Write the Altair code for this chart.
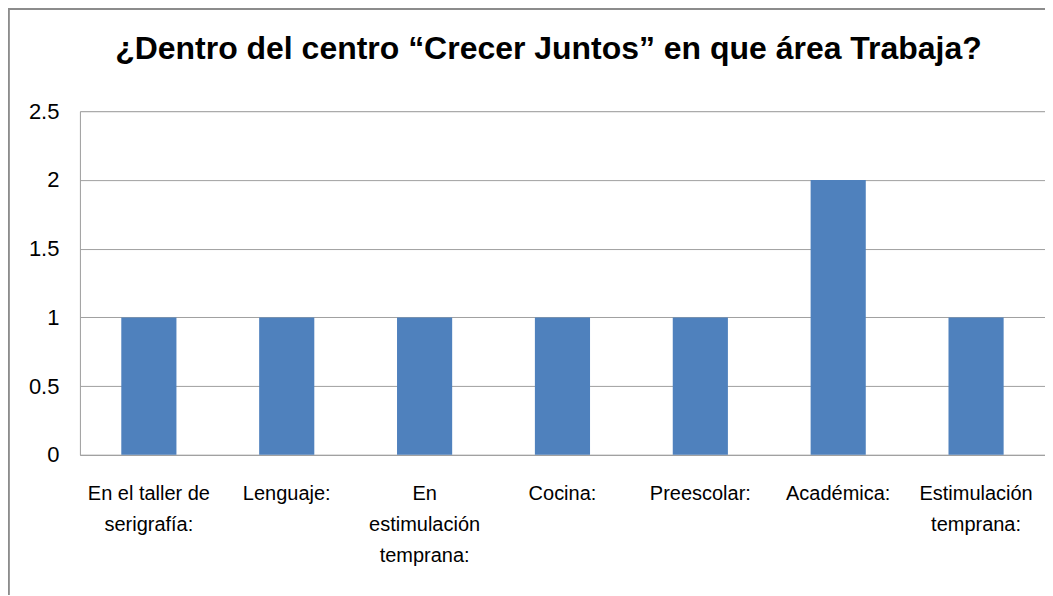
import altair as alt
import pandas as pd

categories = [
    "En el taller de|serigrafía:",
    "Lenguaje:",
    "En|estimulación|temprana:",
    "Cocina:",
    "Preescolar:",
    "Académica:",
    "Estimulación|temprana:",
]
values = [1, 1, 1, 1, 1, 2, 1]
title_text = "¿Dentro del centro “Crecer Juntos” en que área Trabaja?"

df = pd.DataFrame({"cat": categories, "val": values})

W, H = 966, 344

bars = alt.Chart(df).mark_bar(color="#4F81BD").encode(
    x=alt.X(
        "cat:N",
        sort=categories,
        title=None,
        scale=alt.Scale(paddingInner=0.6, paddingOuter=0.3),
        axis=alt.Axis(
            labelExpr="split(datum.label, '|')",
            labelAngle=0,
            labelFont="Liberation Sans",
            labelFontSize=20,
            labelColor="#000000",
            labelLineHeight=31,
            labelPadding=29,
            labelBaseline="top",
            ticks=False,
            domainColor="#A0A0A0",
            labelLimit=200,
        ),
    ),
    y=alt.Y(
        "val:Q",
        title=None,
        scale=alt.Scale(domain=[0, 2.5]),
        axis=alt.Axis(
            values=[0, 0.5, 1, 1.5, 2, 2.5],
            labelFont="Liberation Sans",
            labelFontSize=22,
            labelColor="#000000",
            labelPadding=21,
            ticks=False,
            domainColor="#A0A0A0",
            gridColor="#A0A0A0",
            labelExpr="datum.value",
        ),
    ),
)

border = alt.Chart(df).mark_rect(fill=None, stroke="#8C8C8C", strokeWidth=1.5).encode(
    x=alt.value(-71.5), y=alt.value(-102.5), x2=alt.value(3000), y2=alt.value(3000)
)

title = alt.Chart(pd.DataFrame({"t": [title_text]})).mark_text(
    font="Liberation Sans",
    fontSize=32,
    fontWeight="bold",
    color="#000000",
    align="center",
    baseline="alphabetic",
).encode(text="t:N", x=alt.value(W / 2 - 14), y=alt.value(-52))

chart = alt.layer(bars, border, title).properties(
    width=W,
    height=H,
    autosize=alt.AutoSizeParams(type="none"),
    padding={"left": 72, "top": 103, "right": 0, "bottom": 140},
).configure_view(stroke=None).configure(background="white")

chart.save("out.html", embed_options={"renderer": "svg", "actions": False})
